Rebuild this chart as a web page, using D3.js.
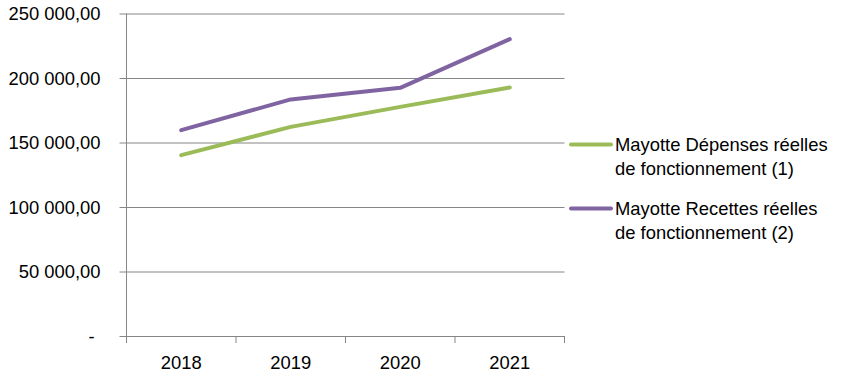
<!DOCTYPE html>
<html>
<head>
<meta charset="utf-8">
<script src="https://cdn.jsdelivr.net/npm/d3@7"></script>
<style>
  body { margin: 0; background: #fff; }
  svg text { font-family: "Liberation Sans", Arial, sans-serif; fill: #000; }
</style>
</head>
<body>
<div id="chart"></div>
<script>
(function () {
    // data
    const years = ["2018", "2019", "2020", "2021"];
    const depenses = [140200, 162100, 177600, 192700];
    const recettes = [159600, 183400, 192400, 230100];
    const yTicks = [0, 50000, 100000, 150000, 200000, 250000];
    const seriesNames = [
        ["Mayotte Dépenses réelles", "de fonctionnement (1)"],
        ["Mayotte Recettes réelles", "de fonctionnement (2)"]
    ];
    const colors = ["#9BBB59", "#8064A2"];

    const W = 856, H = 378;
    const m = { left: 126.5, right: 856 - 564.5, top: 13.5, bottom: 378 - 336 };

    const svg = d3.select("#chart").append("svg")
        .attr("width", W).attr("height", H);

    const x = d3.scaleBand().domain(years).range([m.left, W - m.right]);
    const y = d3.scaleLinear().domain([0, 250000]).range([H - m.bottom, m.top]);

    const fmt = v => v === 0 ? "-" :
        d3.format(",.2f")(v).replace(/,/g, " ").replace(".", ",");

    // horizontal gridlines + y labels
    const yAxis = d3.axisLeft(y).tickValues(yTicks).tickSize(-(W - m.right - m.left))
        .tickFormat(fmt).tickPadding(0);
    const gy = svg.append("g").attr("transform", `translate(${m.left},0)`).call(yAxis);
    gy.select(".domain").remove();
    gy.selectAll(".tick line").attr("stroke", "#868686").attr("x1", -7);
    gy.selectAll(".tick text").attr("x", -26).attr("dy", "0.35em")
        .style("font-size", "18.4px");
    gy.selectAll(".tick").filter(d => d === 0).select("text").attr("x", -32);

    // y axis line
    svg.append("line")
        .attr("x1", m.left).attr("x2", m.left)
        .attr("y1", m.top).attr("y2", H - m.bottom + 7)
        .attr("stroke", "#868686");

    // x axis ticks at band edges
    const edges = years.map(d => x(d)).concat([x(years[years.length - 1]) + x.bandwidth()]);
    svg.append("g").selectAll("line").data(edges.slice(1)).join("line")
        .attr("x1", d => d).attr("x2", d => d)
        .attr("y1", H - m.bottom).attr("y2", H - m.bottom + 7)
        .attr("stroke", "#868686");

    svg.append("g").selectAll("text").data(years).join("text")
        .attr("x", d => x(d) + x.bandwidth() / 2)
        .attr("y", 369)
        .attr("text-anchor", "middle")
        .style("font-size", "18.4px")
        .text(d => d);

    // lines
    const line = d3.line()
        .x((d, i) => x(years[i]) + x.bandwidth() / 2)
        .y(d => y(d));

    [depenses, recettes].forEach((s, i) => {
        svg.append("path").datum(s)
            .attr("d", line)
            .attr("fill", "none")
            .attr("stroke", colors[i])
            .attr("stroke-width", 4)
            .attr("stroke-linejoin", "round")
            .attr("stroke-linecap", "round");
    });

    // legend
    const legendY = [144.5, 208.5];
    seriesNames.forEach((lines, i) => {
        const g = svg.append("g");
        g.append("line")
            .attr("x1", 571).attr("x2", 611)
            .attr("y1", legendY[i]).attr("y2", legendY[i])
            .attr("stroke", colors[i]).attr("stroke-width", 4)
            .attr("stroke-linecap", "round");
        lines.forEach((t, j) => {
            g.append("text")
                .attr("x", 615)
                .attr("y", legendY[i] + 6 + j * 24)
                .style("font-size", "18.4px")
                .text(t);
        });
    });
})();
</script>
</body>
</html>
